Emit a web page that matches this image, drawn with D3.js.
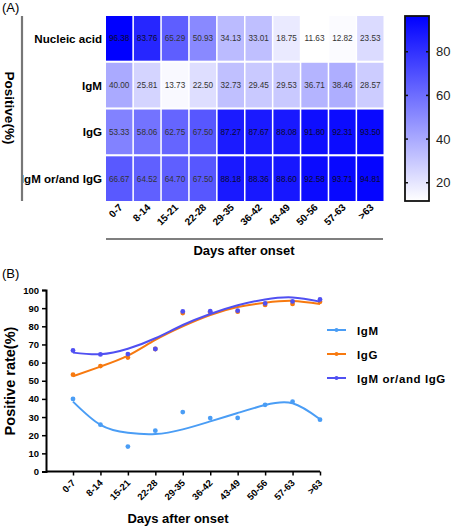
<!DOCTYPE html>
<html><head><meta charset="utf-8">
<script src="https://cdn.jsdelivr.net/npm/d3@7"></script>
<style>
body{margin:0;background:#fff;}
text{font-family:Arial,"Liberation Sans",sans-serif;}
</style></head>
<body><svg id="c" width="451" height="529"></svg>
<script>
const days = ["0-7","8-14","15-21","22-28","29-35","36-42","43-49","50-56","57-63",">63"];
const rows = ["Nucleic acid","IgM","IgG","IgM or/and IgG"];
const nucleic = [96.38,83.76,65.29,50.93,34.13,33.01,18.75,11.63,12.82,23.53];
const igm = [40.00,25.81,13.73,22.50,32.73,29.45,29.53,36.71,38.46,28.57];
const igg = [53.33,58.06,62.75,67.50,87.27,87.67,88.08,91.80,92.31,93.50];
const either = [66.67,64.52,64.70,67.50,88.18,88.36,88.60,92.58,93.71,94.81];
// fitted trend curves at each category
const igmFit = [38.5,25.7,21.3,20.6,23.2,27.6,32.2,36.6,37.6,28.8];
const iggFit = [52.5,57.8,63.8,72.5,80.0,86.2,90.6,93.0,94.0,92.3];
const eitherFit = [65.5,64.6,67.6,73.4,80.7,86.8,91.6,94.8,95.9,93.6];
const colorTicks = [20,40,60,80];
const yTicks = [0,10,20,30,40,50,60,70,80,90,100];
const legendNames = ["IgM","IgG","IgM or/and IgG"];
const seriesColors = ["#4a9df5","#f7790f","#5050f2"];

const svg = d3.select("#c");
const matrix = [nucleic, igm, igg, either];

// ---------- Panel A ----------
svg.append("text").attr("x",2).attr("y",12).attr("font-size",13).text("(A)");
const hx = d3.scaleBand().domain(days).range([106,383.5]).paddingInner(0.055);
const hy = d3.scaleBand().domain(rows).range([16,201]).paddingInner(0.045);
const vmin = d3.min(nucleic), vmax = d3.max(nucleic);
const color = d3.scaleLinear().domain([vmin, vmax]).range(["#ffffff","#0000ff"]).interpolate(d3.interpolateRgb);

const cells = [];
rows.forEach((r,i)=>days.forEach((d,j)=>cells.push({r,d,v:matrix[i][j]})));
svg.append("g").selectAll("rect").data(cells).join("rect")
  .attr("x",c=>hx(c.d)).attr("y",c=>hy(c.r))
  .attr("width",hx.bandwidth()).attr("height",hy.bandwidth())
  .attr("fill",c=>color(c.v));
svg.append("g").selectAll("text").data(cells).join("text")
  .attr("x",c=>hx(c.d)+hx.bandwidth()/2).attr("y",c=>hy(c.r)+hy.bandwidth()/2+3)
  .attr("text-anchor","middle").attr("font-size",8.2)
  .attr("fill",c=>c.v>75?"#0a0a30":"#333")
  .text(c=>c.v.toFixed(2));

// row labels
svg.append("g").selectAll("text").data(rows).join("text")
  .attr("x",102).attr("y",r=>hy(r)+hy.bandwidth()/2+4.5)
  .attr("text-anchor","end").attr("font-size",11.6).attr("font-weight","bold").text(r=>r);
svg.append("line").attr("x1",22).attr("x2",22).attr("y1",16).attr("y2",201)
  .attr("stroke","#777").attr("stroke-width",2.2);
svg.append("text").attr("transform","translate(5,108) rotate(90)")
  .attr("text-anchor","middle").attr("font-size",13.5).attr("font-weight","bold").text("Positive(%)");

// x labels
svg.append("g").selectAll("text").data(days).join("text")
  .attr("transform",d=>`translate(${hx(d)+hx.bandwidth()/2+4},${208}) rotate(-45)`)
  .attr("text-anchor","end").attr("font-size",10).attr("font-weight","bold").text(d=>d);
svg.append("line").attr("x1",106).attr("x2",383).attr("y1",239).attr("y2",239)
  .attr("stroke","#555").attr("stroke-width",1.5);
svg.append("text").attr("x",244).attr("y",255).attr("text-anchor","middle")
  .attr("font-size",13).attr("font-weight","bold").text("Days after onset");

// colorbar
const cb = {x:405,y:16,w:24,h:185};
const cscale = d3.scaleLinear().domain([vmin,vmax]).range([cb.y+cb.h, cb.y]);
const defs = svg.append("defs");
const grad = defs.append("linearGradient").attr("id","g").attr("x1",0).attr("x2",0).attr("y1",1).attr("y2",0);
grad.append("stop").attr("offset",0).attr("stop-color",color(vmin));
grad.append("stop").attr("offset",1).attr("stop-color",color(vmax));
svg.append("rect").attr("x",cb.x).attr("y",cb.y).attr("width",cb.w).attr("height",cb.h)
  .attr("fill","url(#g)").attr("stroke","#111").attr("stroke-width",1.8);
const cbt = svg.append("g");
colorTicks.forEach(t=>{
  cbt.append("line").attr("x1",cb.x).attr("x2",cb.x+3).attr("y1",cscale(t)).attr("y2",cscale(t)).attr("stroke","#111").attr("stroke-width",1.5);
  cbt.append("line").attr("x1",cb.x+cb.w-3).attr("x2",cb.x+cb.w).attr("y1",cscale(t)).attr("y2",cscale(t)).attr("stroke","#111").attr("stroke-width",1.5);
  cbt.append("text").attr("x",cb.x+cb.w+7).attr("y",cscale(t)+4.5).attr("font-size",13).attr("fill","#222").text(t);
});

// ---------- Panel B ----------
svg.append("text").attr("x",2).attr("y",278).attr("font-size",13).text("(B)");
const px = d3.scalePoint().domain(days).range([73,320]);
const py = d3.scaleLinear().domain([0,100]).range([471.5,290]);
const axisX0 = 46;

const ya = svg.append("g").attr("transform",`translate(${axisX0},0)`)
  .call(d3.axisLeft(py).tickValues(yTicks).tickSize(4).tickPadding(3));
ya.select(".domain").attr("stroke","#000").attr("stroke-width",2);
ya.selectAll(".tick line").attr("stroke","#000").attr("stroke-width",1.5);
ya.selectAll(".tick text").attr("font-size",9.5).attr("font-weight","bold").attr("fill","#000")
  .attr("font-family","Arial,'Liberation Sans',sans-serif");

const xa = svg.append("g").attr("transform",`translate(0,${py(0)})`)
  .call(d3.axisBottom(px).tickSize(4).tickFormat(""));
xa.select(".domain").attr("d",`M${axisX0},0H${px(">63")}`).attr("stroke","#000").attr("stroke-width",2);
xa.selectAll(".tick line").attr("stroke","#000").attr("stroke-width",1.5);
svg.append("g").selectAll("text").data(days).join("text")
  .attr("transform",d=>`translate(${px(d)+3},${py(0)+12}) rotate(-45)`)
  .attr("text-anchor","end").attr("font-size",9.5).attr("font-weight","bold").text(d=>d);
svg.append("text").attr("x",178).attr("y",523).attr("text-anchor","middle")
  .attr("font-size",13).attr("font-weight","bold").text("Days after onset");
svg.append("text").attr("transform","translate(15,381) rotate(-90)")
  .attr("text-anchor","middle").attr("font-size",14.5).attr("font-weight","bold").text("Positive rate(%)");

const series = [
  {pts:igm, fit:igmFit, c:seriesColors[0]},
  {pts:igg, fit:iggFit, c:seriesColors[1]},
  {pts:either, fit:eitherFit, c:seriesColors[2]}
];
const line = d3.line().x((v,i)=>px(days[i])).y(v=>py(v)).curve(d3.curveNatural);
series.forEach(s=>{
  svg.append("path").attr("d",line(s.fit)).attr("fill","none").attr("stroke",s.c).attr("stroke-width",2);
  svg.append("g").selectAll("circle").data(s.pts).join("circle")
    .attr("cx",(v,i)=>px(days[i])).attr("cy",v=>py(v)).attr("r",2.4).attr("fill",s.c);
});

// legend
const lg = svg.append("g");
legendNames.forEach((n,i)=>{
  const y = 330 + i*24;
  lg.append("line").attr("x1",327).attr("x2",346).attr("y1",y).attr("y2",y).attr("stroke",seriesColors[i]).attr("stroke-width",2);
  lg.append("circle").attr("cx",336.5).attr("cy",y).attr("r",2).attr("fill",seriesColors[i]);
  lg.append("text").attr("x",357).attr("y",y+4.5).attr("font-size",11.5).attr("font-weight","bold")
    .attr("letter-spacing",0.6).text(n);
});
</script></body></html>
